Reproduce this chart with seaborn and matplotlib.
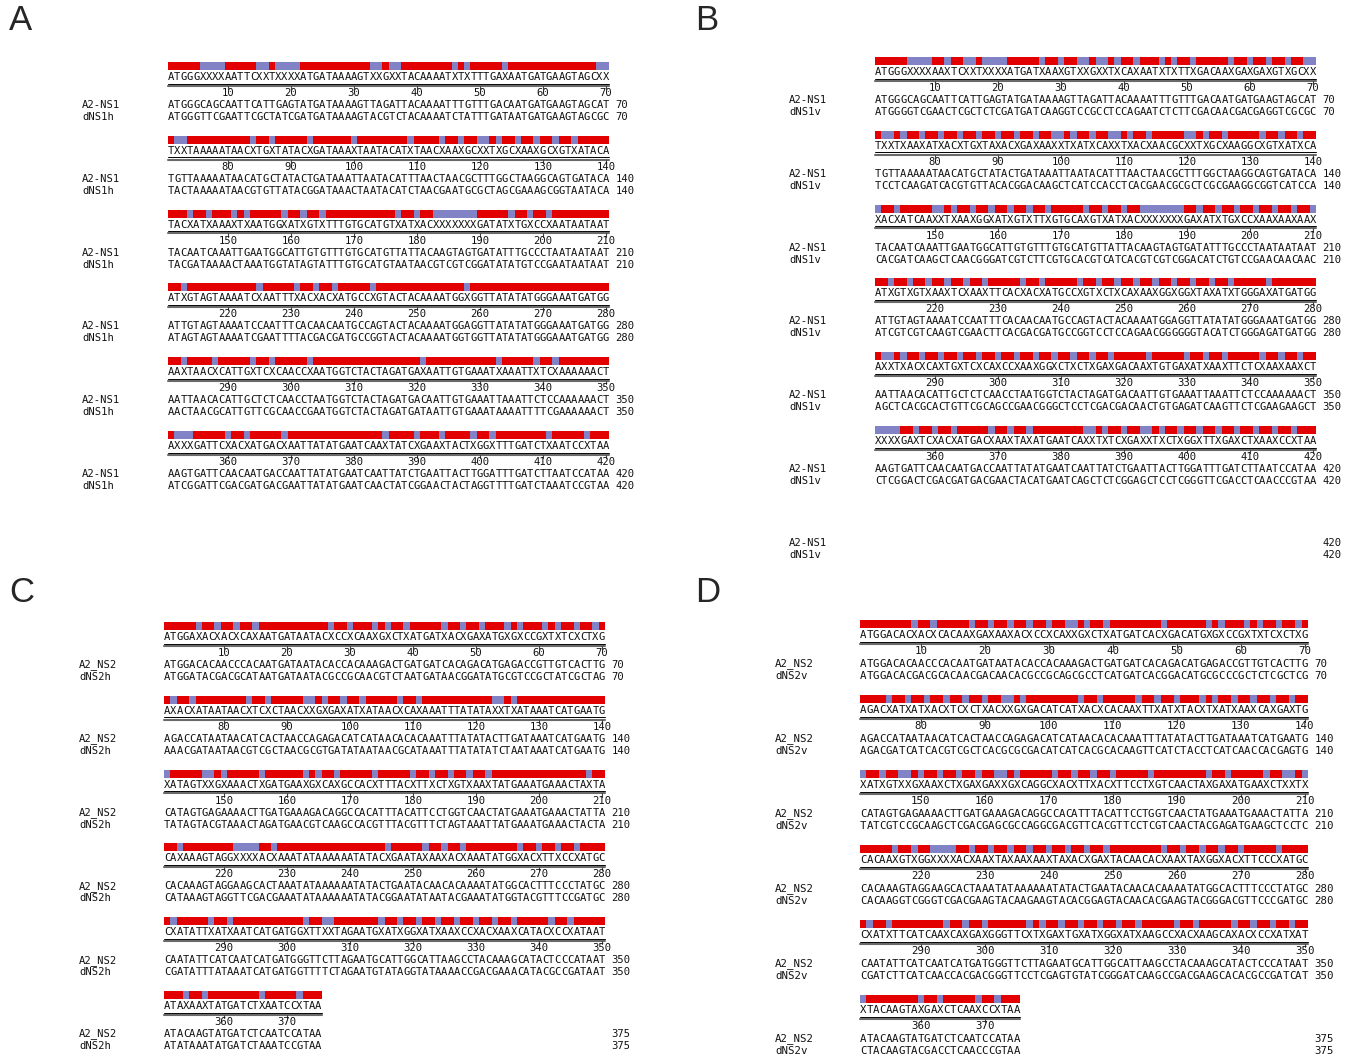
import numpy as np
import seaborn as sns
import matplotlib
matplotlib.use("Agg")
from matplotlib import pyplot as plt
from matplotlib.colors import ListedColormap

# aligned sequences, 70 nt per block
a2_ns1 = [
    "ATGGGCAGCAATTCATTGAGTATGATAAAAGTTAGATTACAAAATTTGTTTGACAATGATGAAGTAGCAT",
    "TGTTAAAAATAACATGCTATACTGATAAATTAATACATTTAACTAACGCTTTGGCTAAGGCAGTGATACA",
    "TACAATCAAATTGAATGGCATTGTGTTTGTGCATGTTATTACAAGTAGTGATATTTGCCCTAATAATAAT",
    "ATTGTAGTAAAATCCAATTTCACAACAATGCCAGTACTACAAAATGGAGGTTATATATGGGAAATGATGG",
    "AATTAACACATTGCTCTCAACCTAATGGTCTACTAGATGACAATTGTGAAATTAAATTCTCCAAAAAACT",
    "AAGTGATTCAACAATGACCAATTATATGAATCAATTATCTGAATTACTTGGATTTGATCTTAATCCATAA",
]
dns1h = [
    "ATGGGTTCGAATTCGCTATCGATGATAAAAGTACGTCTACAAAATCTATTTGATAATGATGAAGTAGCGC",
    "TACTAAAAATAACGTGTTATACGGATAAACTAATACATCTAACGAATGCGCTAGCGAAAGCGGTAATACA",
    "TACGATAAAACTAAATGGTATAGTATTTGTGCATGTAATAACGTCGTCGGATATATGTCCGAATAATAAT",
    "ATAGTAGTAAAATCGAATTTTACGACGATGCCGGTACTACAAAATGGTGGTTATATATGGGAAATGATGG",
    "AACTAACGCATTGTTCGCAACCGAATGGTCTACTAGATGATAATTGTGAAATAAAATTTTCGAAAAAACT",
    "ATCGGATTCGACGATGACGAATTATATGAATCAACTATCGGAACTACTAGGTTTTGATCTAAATCCGTAA",
]
dns1v = [
    "ATGGGGTCGAACTCGCTCTCGATGATCAAGGTCCGCCTCCAGAATCTCTTCGACAACGACGAGGTCGCGC",
    "TCCTCAAGATCACGTGTTACACGGACAAGCTCATCCACCTCACGAACGCGCTCGCGAAGGCGGTCATCCA",
    "CACGATCAAGCTCAACGGGATCGTCTTCGTGCACGTCATCACGTCGTCGGACATCTGTCCGAACAACAAC",
    "ATCGTCGTCAAGTCGAACTTCACGACGATGCCGGTCCTCCAGAACGGGGGGTACATCTGGGAGATGATGG",
    "AGCTCACGCACTGTTCGCAGCCGAACGGGCTCCTCGACGACAACTGTGAGATCAAGTTCTCGAAGAAGCT",
    "CTCGGACTCGACGATGACGAACTACATGAATCAGCTCTCGGAGCTCCTCGGGTTCGACCTCAACCCGTAA",
]
a2_ns2 = [
    "ATGGACACAACCCACAATGATAATACACCACAAAGACTGATGATCACAGACATGAGACCGTTGTCACTTG",
    "AGACCATAATAACATCACTAACCAGAGACATCATAACACACAAATTTATATACTTGATAAATCATGAATG",
    "CATAGTGAGAAAACTTGATGAAAGACAGGCCACATTTACATTCCTGGTCAACTATGAAATGAAACTATTA",
    "CACAAAGTAGGAAGCACTAAATATAAAAAATATACTGAATACAACACAAAATATGGCACTTTCCCTATGC",
    "CAATATTCATCAATCATGATGGGTTCTTAGAATGCATTGGCATTAAGCCTACAAAGCATACTCCCATAAT",
    "ATACAAGTATGATCTCAATCCATAA",
]
dns2h = [
    "ATGGATACGACGCATAATGATAATACGCCGCAACGTCTAATGATAACGGATATGCGTCCGCTATCGCTAG",
    "AAACGATAATAACGTCGCTAACGCGTGATATAATAACGCATAAATTTATATATCTAATAAATCATGAATG",
    "TATAGTACGTAAACTAGATGAACGTCAAGCCACGTTTACGTTTCTAGTAAATTATGAAATGAAACTACTA",
    "CATAAAGTAGGTTCGACGAAATATAAAAAATATACGGAATATAATACGAAATATGGTACGTTTCCGATGC",
    "CGATATTTATAAATCATGATGGTTTTCTAGAATGTATAGGTATAAAACCGACGAAACATACGCCGATAAT",
    "ATATAAATATGATCTAAATCCGTAA",
]
dns2v = [
    "ATGGACACGACGCACAACGACAACACGCCGCAGCGCCTCATGATCACGGACATGCGCCCGCTCTCGCTCG",
    "AGACGATCATCACGTCGCTCACGCGCGACATCATCACGCACAAGTTCATCTACCTCATCAACCACGAGTG",
    "TATCGTCCGCAAGCTCGACGAGCGCCAGGCGACGTTCACGTTCCTCGTCAACTACGAGATGAAGCTCCTC",
    "CACAAGGTCGGGTCGACGAAGTACAAGAAGTACACGGAGTACAACACGAAGTACGGGACGTTCCCGATGC",
    "CGATCTTCATCAACCACGACGGGTTCCTCGAGTGTATCGGGATCAAGCCGACGAAGCACACGCCGATCAT",
    "CTACAAGTACGACCTCAACCCGTAA",
]

panel_letters = ["A", "B", "C", "D"]
top_names = ["A2-NS1", "A2-NS1", "A2_NS2", "A2_NS2"]
bottom_names = ["dNS1h", "dNS1v", "dNS2h", "dNS2v"]
top_seqs = [a2_ns1, a2_ns1, a2_ns2, a2_ns2]
bottom_seqs = [dns1h, dns1v, dns2h, dns2v]
empty_tail = [False, True, False, False]

# page layout in pixels
W, H = 1362, 1056
layout = [
    dict(letter=(9, 21), lab=82, x0=168, y0=62, s=1.0),
    dict(letter=(695, 21), lab=789, x0=875, y0=57, s=1.0),
    dict(letter=(9, 592), lab=79, x0=164, y0=622, s=1.0),
    dict(letter=(695, 592), lab=775, x0=860, y0=620, s=1.016),
]
CW = 6.3
PITCH = 73.8
RED, BLUE = "#e30000", "#8282c6"
MONO = "DejaVu Sans Mono"

sns.set_style("white")
plt.rcParams["font.family"] = ["DejaVu Sans"]
cmap = ListedColormap([BLUE, RED])

fig = plt.figure(figsize=(W / 100, H / 100), dpi=100)
ax = fig.add_axes([0, 0, 1, 1])
ax.set_xlim(0, W)
ax.set_ylim(H, 0)
ax.axis("off")


def row(x0, y, text, cw, fs, color="#111111"):
    for i, ch in enumerate(text):
        ax.text(x0 + (i + 0.5) * cw, y, ch, ha="center", va="center",
                fontsize=fs, family=MONO, color=color)


for p in range(4):
    L = layout[p]
    s = L["s"]
    cw = CW * s
    fs = 7.6 * s
    x0 = L["x0"]
    ax.text(L["letter"][0], L["letter"][1], panel_letters[p], ha="left", va="center",
            fontsize=25, family="Liberation Sans")
    start = 1
    for b, (t, u) in enumerate(zip(top_seqs[p], bottom_seqs[p])):
        n = len(t)
        yb = L["y0"] + b * PITCH * s
        match = np.array([[1 if x == y else 0 for x, y in zip(t, u)]])
        cons = "".join(x if x == y else "X" for x, y in zip(t, u))
        # match / mismatch strip
        bh = 8 * s
        bax = fig.add_axes([x0 / W, 1 - (yb + bh) / H, n * cw / W, bh / H])
        sns.heatmap(match, ax=bax, cmap=cmap, vmin=0, vmax=1, cbar=False,
                    xticklabels=False, yticklabels=False, linewidths=0,
                    antialiased=False)
        # consensus + ruler
        yc = yb + 15 * s
        row(x0, yc, cons, cw, fs)
        ax.plot([x0, x0 + n * cw], [yc + 6.5 * s] * 2, color="black", lw=0.7)
        ax.plot([x0, x0 + n * cw], [yc + 8.8 * s] * 2, color="#6a6a6a", lw=1.5)
        for m in range(start, start + n):
            if m % 10 == 0:
                xc = x0 + (m - start + 0.5) * cw
                ax.plot([xc, xc], [yc + 8.8 * s, yc + 12 * s], color="#444444", lw=0.8)
                ax.text(xc, yb + 31 * s, str(m), ha="center", va="center",
                        fontsize=fs, family=MONO, color="#111111")
        end = start + n - 1
        for y, name, seq in [(yb + 43 * s, top_names[p], t), (yb + 55 * s, bottom_names[p], u)]:
            ax.text(L["lab"], y, name, ha="left", va="center", fontsize=fs, family=MONO,
                    color="#111111")
            row(x0, y, seq, cw, fs)
            ax.text(x0 + 71 * cw, y, str(end), ha="left", va="center", fontsize=fs,
                    family=MONO, color="#111111")
        start = end + 1
    if empty_tail[p]:
        yb = L["y0"] + len(top_seqs[p]) * PITCH * s
        for y, name in [(yb + 43 * s, top_names[p]), (yb + 55 * s, bottom_names[p])]:
            ax.text(L["lab"], y, name, ha="left", va="center", fontsize=fs, family=MONO,
                    color="#111111")
            ax.text(x0 + 71 * cw, y, str(start - 1), ha="left", va="center",
                    fontsize=fs, family=MONO, color="#111111")

fig.savefig("out.png", dpi=100)
